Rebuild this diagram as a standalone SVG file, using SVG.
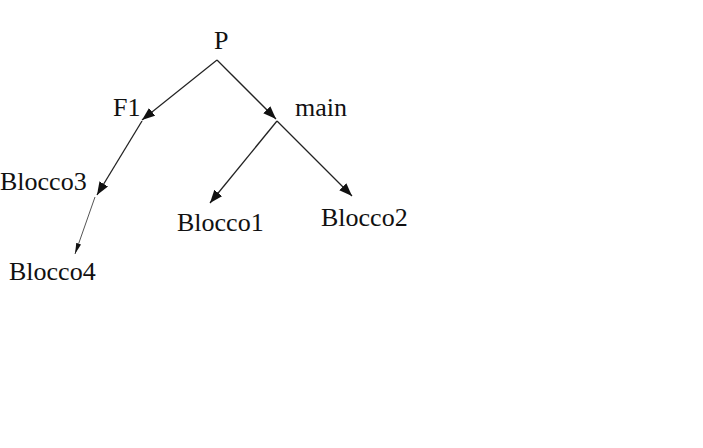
<svg xmlns="http://www.w3.org/2000/svg" width="703" height="448" viewBox="0 0 703 448">
<style>
.t{font-family:"Liberation Serif","Times New Roman",serif;font-size:26px;fill:#111}
.e{stroke:#222;stroke-width:1.3;fill:none}
.thin{stroke:#555;stroke-width:1;fill:none}
</style>
<defs>
<marker id="ah" markerUnits="userSpaceOnUse" markerWidth="14" markerHeight="12" refX="13" refY="5" orient="auto">
<path d="M0,0 L13,5 L0,10 Z" fill="#111"/>
</marker>
<marker id="ahs" markerUnits="userSpaceOnUse" markerWidth="12" markerHeight="8" refX="11" refY="2.5" orient="auto">
<path d="M0,0 L11,2.5 L0,5 Z" fill="#111"/>
</marker>
</defs>
<rect width="703" height="448" fill="#fff"/>
<g id="connectors">
<line class="e" x1="217" y1="60" x2="142" y2="120" marker-end="url(#ah)"/>
<line class="e" x1="217" y1="60" x2="276" y2="119" marker-end="url(#ah)"/>
<line class="e" x1="142" y1="121" x2="97" y2="195" marker-end="url(#ah)"/>
<line class="e" x1="277" y1="121" x2="210" y2="203" marker-end="url(#ah)"/>
<line class="e" x1="277" y1="121" x2="352" y2="196" marker-end="url(#ah)"/>
<line class="thin" x1="95" y1="197" x2="75" y2="254" marker-end="url(#ahs)"/>
</g>
<g id="node-P"><text class="t" x="214" y="49">P</text></g>
<g id="node-F1"><text class="t" x="113" y="116">F1</text></g>
<g id="node-main"><text class="t" x="295" y="116">main</text></g>
<g id="node-Blocco3"><text class="t" x="0" y="190">Blocco3</text></g>
<g id="node-Blocco1"><text class="t" x="177" y="231">Blocco1</text></g>
<g id="node-Blocco2"><text class="t" x="321" y="226">Blocco2</text></g>
<g id="node-Blocco4"><text class="t" x="9" y="280">Blocco4</text></g>
</svg>
